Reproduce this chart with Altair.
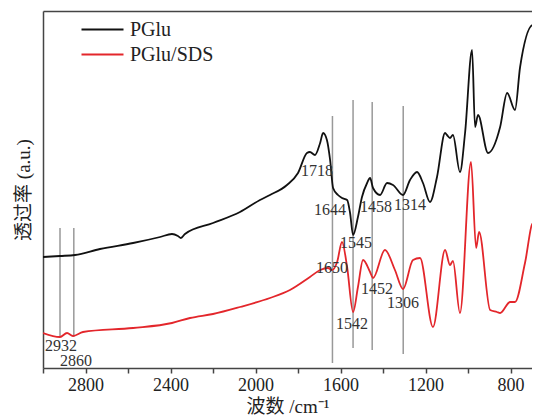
import altair as alt
import pandas as pd

# ---- data ----
series_names = ["PGlu", "PGlu/SDS"]
series_colors = ["#111111", "#e3262b"]

wn_pglu = [3000, 2920, 2849, 2732, 2576, 2449, 2393, 2365, 2351, 2332, 2200, 2073, 1979,
           1932, 1852, 1800, 1758, 1744, 1720, 1696, 1682, 1664, 1649, 1635, 1612, 1593,
           1569, 1555, 1541, 1518, 1499, 1475, 1461, 1447, 1414, 1381, 1353, 1306, 1273,
           1240, 1212, 1179, 1146, 1108, 1099, 1085, 1071, 1038, 1014, 981, 967, 953, 906,
           849, 816, 779, 755, 694, 671, 661]
t_pglu = [111, 112, 113, 119, 125, 131, 134, 132, 130, 134, 145, 156, 168,
          173, 183, 195, 215, 216, 213, 225, 235, 228, 208, 180, 173, 170,
          168, 155, 133, 151, 171, 185, 190, 180, 173, 185, 183, 173, 188,
          196, 185, 166, 191, 235, 233, 230, 233, 196, 235, 318, 241, 253, 215,
          241, 275, 258, 301, 343, 335, 340]

wn_sds = [3000, 2920, 2887, 2859, 2812, 2576, 2393, 2308, 2200, 2073, 1932, 1838, 1744,
          1696, 1659, 1640, 1616, 1593, 1569, 1541, 1518, 1494, 1461, 1447, 1391, 1344,
          1306, 1259, 1226, 1165, 1108, 1085, 1071, 1038, 986, 962, 948, 896, 864, 849,
          802, 779, 732, 694, 671, 661]
t_sds = [35, 31, 35, 32, 36, 40, 45, 50, 54, 61, 70, 78, 91,
         98, 100, 98, 106, 126, 101, 56, 81, 108, 96, 90, 118, 98,
         79, 108, 110, 41, 118, 103, 107, 55, 206, 120, 136, 58, 56, 55,
         66, 66, 105, 145, 123, 128]

marker_wn = [2920, 2855, 1638, 1541, 1451, 1305]
marker_top = [140, 140, 252, 268, 266, 262]
marker_bottom = [31, 31, 5, 20, 18, 14]

label_text = ["1718", "1644", "1458", "1314", "1545", "1650", "1452", "1306", "1542", "2932", "2860"]
label_wn = [1711, 1649, 1433, 1273, 1527, 1640, 1428, 1306, 1546, 2915, 2845]
label_t = [197, 158, 161, 163, 125, 100, 79, 65, 44, 22, 7]

x_ticks = [3000, 2800, 2600, 2400, 2200, 2000, 1800, 1600, 1400, 1200, 1000, 800]

# ---- tables ----
curves = pd.concat([
    pd.DataFrame({"wn": wn_pglu, "t": t_pglu, "series": series_names[0], "order": range(len(wn_pglu))}),
    pd.DataFrame({"wn": wn_sds, "t": t_sds, "series": series_names[1], "order": range(len(wn_sds))}),
])
markers = pd.DataFrame({"wn": marker_wn, "top": marker_top, "bottom": marker_bottom})
labels = pd.DataFrame({"wn": label_wn, "t": label_t, "text": label_text})

SERIF = "Liberation Serif"
xscale = alt.Scale(domain=[699, 3000], reverse=True, nice=False, zero=False)
yscale = alt.Scale(domain=[0, 357], nice=False, zero=False)

y_axis = alt.Axis(labels=False, ticks=False, grid=False, domainColor="#444444", domainWidth=1.5,
                  title="透过率 (a.u.)", titleFont="Liberation Serif, Noto Sans CJK SC",
                  titleFontSize=19, titleFontWeight="normal", titleColor="#222222", titlePadding=10)

x_axis_bottom = alt.Axis(orient="bottom", values=x_ticks,
                         labelExpr="datum.value % 400 == 0 ? format(datum.value, 'd') : ''",
                         tickSize=5, tickWidth=1.5, tickColor="#444444",
                         domainColor="#444444", domainWidth=1.5, grid=False,
                         labelFont=SERIF, labelFontSize=18, labelColor="#222222", labelPadding=3,
                         labelFlush=False, labelOverlap=False,
                         title="波数 /cm⁻¹", titleFont="Liberation Serif, Noto Sans CJK SC",
                         titleFontSize=19, titleFontWeight="normal", titleColor="#222222",
                         titlePadding=3)

x_axis_top = alt.Axis(orient="top", labels=False, ticks=False, grid=False,
                      domainColor="#444444", domainWidth=1.5, title=None)

rules = alt.Chart(markers).mark_rule(color="#999999", strokeWidth=1.5).encode(
    x=alt.X("wn:Q", scale=xscale, axis=None),
    y=alt.Y("top:Q", scale=yscale, axis=y_axis),
    y2="bottom:Q",
)

lines = alt.Chart(curves).mark_line(strokeWidth=1.8, interpolate="monotone", clip=True).encode(
    x=alt.X("wn:Q", scale=xscale, axis=x_axis_bottom),
    y=alt.Y("t:Q", scale=yscale, axis=y_axis),
    color=alt.Color("series:N", scale=alt.Scale(domain=series_names, range=series_colors),
                    legend=alt.Legend(orient="none", legendX=48, legendY=7, title=None,
                                      symbolType="M-2,0H2", symbolSize=441, symbolStrokeWidth=2,
                                      labelFont=SERIF, labelFontSize=20, labelColor="#222222",
                                      labelOffset=16, rowPadding=3, padding=0)),
    order="order:Q",
)

texts = alt.Chart(labels).mark_text(font=SERIF, fontSize=16, color="#333333",
                                    align="center", baseline="middle").encode(
    x=alt.X("wn:Q", scale=xscale, axis=x_axis_top),
    y=alt.Y("t:Q", scale=yscale, axis=y_axis),
    text="text:N",
)

chart = alt.layer(rules, lines, texts).resolve_axis(x="independent").properties(
    width=489, height=357,
    autosize=alt.AutoSizeParams(type="none"),
    padding={"left": 35, "top": 3, "right": 0, "bottom": 47},
).configure_view(stroke=None)

chart.save("out.html", embed_options={"renderer": "svg", "actions": False})
